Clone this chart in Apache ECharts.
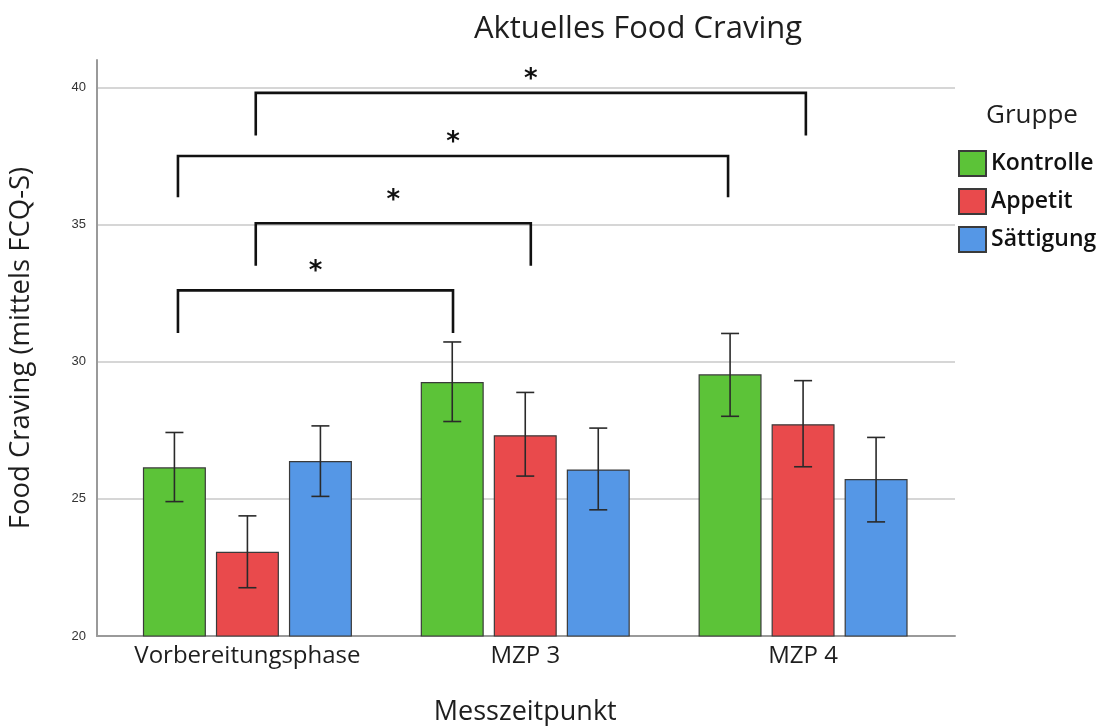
<!DOCTYPE html>
<html>
<head>
<meta charset="utf-8">
<script src="https://cdn.jsdelivr.net/npm/echarts@6/dist/echarts.min.js"></script>
<style>
  html, body { margin: 0; padding: 0; background: #ffffff; }
  #chart { width: 1104px; height: 726px; }
</style>
</head>
<body>
<div id="chart"></div>
<script>
// Measurement points and groups
const CATEGORIES = ['Vorbereitungsphase', 'MZP 3', 'MZP 4'];
const GROUPS = ['Kontrolle', 'Appetit', 'Sättigung'];

// Group means (FCQ-S)
const MEAN_KONTROLLE = [26.15, 29.26, 29.54];
const MEAN_APPETIT = [23.07, 27.32, 27.72];
const MEAN_SAETTIGUNG = [26.38, 26.07, 25.72];

// Error bar limits
const LOW_KONTROLLE = [24.90, 27.82, 28.01];
const HIGH_KONTROLLE = [27.42, 30.72, 31.03];
const LOW_APPETIT = [21.76, 25.83, 26.17];
const HIGH_APPETIT = [24.38, 28.88, 29.31];
const LOW_SAETTIGUNG = [25.09, 24.60, 24.16];
const HIGH_SAETTIGUNG = [27.66, 27.58, 27.24];

// Y axis tick values
const Y_TICKS = [20, 25, 30, 35, 40];

// Significance brackets: endpoints as [category index, shift in category widths],
// horizontal level, foot level and star level in axis units
const BRACKET_FROM = [[0, -0.25], [0, 0.03], [0, -0.25], [0, 0.03]];
const BRACKET_TO = [[1, -0.26], [1, 0.02], [2, -0.27], [2, 0.01]];
const BRACKET_TOP = [32.6, 35.05, 37.5, 39.8];
const BRACKET_FOOT = [31.05, 33.5, 36.0, 38.25];
const BRACKET_STAR = [33.44, 36.04, 38.14, 40.46];

const COLORS = ['#5cc338', '#e94a4c', '#5597e6'];
const MEANS = [MEAN_KONTROLLE, MEAN_APPETIT, MEAN_SAETTIGUNG];
const LOWS = [LOW_KONTROLLE, LOW_APPETIT, LOW_SAETTIGUNG];
const HIGHS = [HIGH_KONTROLLE, HIGH_APPETIT, HIGH_SAETTIGUNG];

const Y_MIN = Y_TICKS[0];
const Y_MAX = 41;
const BAR_WIDTH = 63;
const BAR_GAP_PX = 10;
const TEXT_FONT = '"Open Sans", "Noto Sans", sans-serif';

const chart = echarts.init(document.getElementById('chart'), null, { renderer: 'canvas' });

const barSeries = GROUPS.map((g, gi) => ({
  type: 'bar',
  name: g,
  xAxisIndex: 1,
  yAxisIndex: 1,
  data: MEANS[gi],
  barWidth: BAR_WIDTH,
  barGap: (BAR_GAP_PX / BAR_WIDTH * 100).toFixed(1) + '%',
  itemStyle: { color: COLORS[gi], borderColor: '#3a3a3a', borderWidth: 1.2 },
  emphasis: { disabled: true },
  z: 2
}));

const errorSeries = GROUPS.map((g, gi) => ({
  type: 'custom',
  name: g + ' Fehler',
  xAxisIndex: 1,
  yAxisIndex: 1,
  data: CATEGORIES.map((c, i) => [i, LOWS[gi][i], HIGHS[gi][i]]),
  encode: { x: 0, y: [1, 2] },
  z: 5,
  silent: true,
  renderItem: function (params, api) {
    const offset = (gi - 1) * (BAR_WIDTH + BAR_GAP_PX);
    const lo = api.coord([api.value(0), api.value(1)]);
    const hi = api.coord([api.value(0), api.value(2)]);
    const x = lo[0] + offset;
    const cap = 9;
    const style = { stroke: '#2a2a2a', lineWidth: 1.6 };
    return {
      type: 'group',
      children: [
        { type: 'line', shape: { x1: x, y1: lo[1], x2: x, y2: hi[1] }, style: style },
        { type: 'line', shape: { x1: x - cap, y1: lo[1], x2: x + cap, y2: lo[1] }, style: style },
        { type: 'line', shape: { x1: x - cap, y1: hi[1], x2: x + cap, y2: hi[1] }, style: style }
      ]
    };
  }
}));

const bracketSeries = {
  type: 'custom',
  name: 'Signifikanz',
  xAxisIndex: 1,
  yAxisIndex: 1,
  data: BRACKET_TOP.map((t, i) => [
    BRACKET_FROM[i][0], BRACKET_FROM[i][1], BRACKET_TO[i][0], BRACKET_TO[i][1],
    t, BRACKET_FOOT[i], BRACKET_STAR[i]
  ]),
  encode: { x: 0, y: 4 },
  z: 6,
  silent: true,
  clip: false,
  renderItem: function (params, api) {
    const bw = api.size([1, 0])[0];
    const p0 = api.coord([api.value(0), api.value(4)]);
    const p1 = api.coord([api.value(2), api.value(4)]);
    const x0 = p0[0] + api.value(1) * bw;
    const x1 = p1[0] + api.value(3) * bw;
    const yTop = p0[1];
    const yFoot = api.coord([api.value(0), api.value(5)])[1];
    const yStar = api.coord([api.value(0), api.value(6)])[1];
    return {
      type: 'group',
      children: [
        {
          type: 'polyline',
          shape: { points: [[x0, yFoot], [x0, yTop], [x1, yTop], [x1, yFoot]] },
          style: { stroke: '#111111', lineWidth: 2.6, fill: null, lineJoin: 'miter' }
        },
        {
          type: 'text',
          style: {
            text: '*', x: (x0 + x1) / 2, y: yStar + 5,
            textAlign: 'center', textVerticalAlign: 'middle',
            font: 'bold 26px "DejaVu Sans", sans-serif', fill: '#111111'
          }
        }
      ]
    };
  }
};

const option = {
  animation: false,
  backgroundColor: '#ffffff',
  title: [
    {
      text: 'Aktuelles Food Craving',
      left: 633, top: 9, textAlign: 'center',
      textStyle: { fontFamily: TEXT_FONT, fontSize: 31, fontWeight: 'normal', color: '#1e1e1e' }
    },
    {
      text: 'Gruppe',
      left: 1027, top: 98, textAlign: 'center',
      textStyle: { fontFamily: TEXT_FONT, fontSize: 26, fontWeight: 'normal', color: '#1e1e1e' }
    }
  ],
  legend: {
    data: GROUPS,
    orient: 'vertical',
    left: 958, top: 150, padding: 0,
    itemWidth: 27, itemHeight: 25, itemGap: 11,
    icon: 'rect',
    selectedMode: false,
    textStyle: { fontFamily: TEXT_FONT, fontSize: 23, fontWeight: 600, color: '#111111' }
  },
  grid: [
    { left: 97, right: 149, top: 60, bottom: 90, outerBoundsMode: 'none' },
    { left: 108.5, right: 162, top: 60, bottom: 90, outerBoundsMode: 'none' }
  ],
  xAxis: [
    {
      type: 'value', gridIndex: 0, min: 0, max: 1,
      axisLine: { show: true, lineStyle: { color: '#9a9a9a', width: 2 } },
      axisTick: { show: false }, axisLabel: { show: false }, splitLine: { show: false }
    },
    {
      type: 'category', gridIndex: 1, data: CATEGORIES,
      name: 'Messzeitpunkt', nameLocation: 'middle', nameGap: 63,
      nameTextStyle: { fontFamily: TEXT_FONT, fontSize: 27, color: '#1e1e1e' },
      axisLine: { show: false }, axisTick: { show: false },
      axisLabel: { interval: 0, fontFamily: TEXT_FONT, fontSize: 24, color: '#1e1e1e', margin: 8 }
    }
  ],
  yAxis: [
    {
      type: 'value', gridIndex: 0, min: Y_MIN, max: Y_MAX, interval: 5,
      name: 'Food Craving (mittels FCQ-S)', nameLocation: 'middle', nameGap: 62, nameRotate: 90,
      nameTextStyle: { fontFamily: TEXT_FONT, fontSize: 27.5, color: '#1e1e1e' },
      axisLine: { show: true, lineStyle: { color: '#9a9a9a', width: 2 } },
      axisTick: { show: false },
      axisLabel: {
        fontFamily: '"Liberation Sans", Arial, sans-serif', fontSize: 13, color: '#333333', margin: 11,
        showMaxLabel: false,
        formatter: v => (Y_TICKS.indexOf(v) >= 0 ? String(v) : '')
      },
      splitLine: { show: true, showMinLine: false, showMaxLine: false, lineStyle: { color: '#d6d6d6', width: 2 } }
    },
    {
      type: 'value', gridIndex: 1, min: Y_MIN, max: Y_MAX, interval: 5, show: false,
      splitLine: { show: false }
    }
  ],
  series: [...barSeries, ...errorSeries, bracketSeries]
};

chart.setOption(option);
</script>
</body>
</html>
